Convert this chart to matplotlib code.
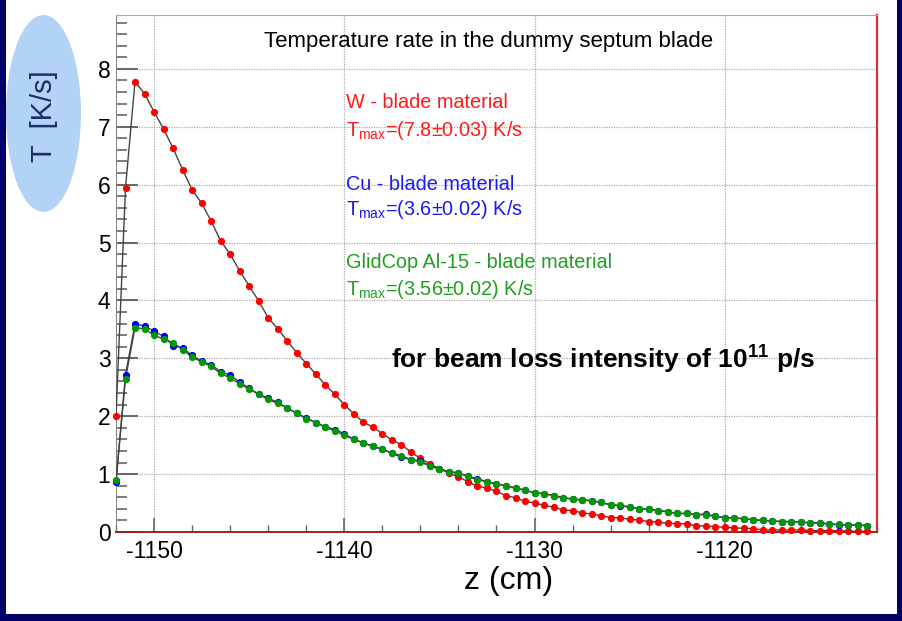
import numpy as np
import matplotlib.pyplot as plt
from matplotlib.patches import Ellipse, Rectangle
from matplotlib.ticker import MultipleLocator

plt.rcParams['font.family'] = ['Liberation Sans', 'DejaVu Sans']
plt.rcParams['axes.unicode_minus'] = False

# z bins (cm), one point every 0.5 cm
z = np.arange(-1152.0, -1112.25, 0.5)

# temperature rate (K/s)
t_w = [2.00, 5.95, 7.78, 7.57, 7.26, 6.96, 6.63, 6.26, 5.91, 5.68,
       5.37, 5.03, 4.80, 4.51, 4.25, 3.99, 3.70, 3.51, 3.30, 3.10,
       2.91, 2.73, 2.54, 2.38, 2.20, 2.04, 1.90, 1.81, 1.70, 1.59,
       1.51, 1.38, 1.27, 1.18, 1.09, 1.02, 0.95, 0.87, 0.79, 0.76,
       0.70, 0.63, 0.59, 0.53, 0.50, 0.46, 0.43, 0.38, 0.37, 0.33,
       0.31, 0.28, 0.25, 0.245, 0.22, 0.205, 0.18, 0.17, 0.15, 0.145,
       0.14, 0.11, 0.10, 0.093, 0.081, 0.07, 0.064, 0.059, 0.036, 0.036,
       0.036, 0.036, 0.036, 0.024, 0.024, 0.024, 0.024, 0.012, 0.012, 0.012]

t_cu = [0.87, 2.72, 3.59, 3.56, 3.47, 3.38, 3.22, 3.18, 3.05, 2.95,
        2.89, 2.77, 2.71, 2.59, 2.48, 2.38, 2.31, 2.24, 2.14, 2.05,
        1.97, 1.89, 1.82, 1.77, 1.70, 1.60, 1.54, 1.48, 1.43, 1.36,
        1.29, 1.25, 1.23, 1.14, 1.09, 1.04, 1.02, 0.96, 0.92, 0.87,
        0.83, 0.80, 0.76, 0.72, 0.68, 0.66, 0.63, 0.59, 0.57, 0.55,
        0.54, 0.51, 0.47, 0.45, 0.43, 0.40, 0.39, 0.37, 0.35, 0.32,
        0.32, 0.30, 0.31, 0.27, 0.25, 0.24, 0.23, 0.21, 0.20, 0.19,
        0.18, 0.18, 0.17, 0.16, 0.16, 0.14, 0.12, 0.12, 0.12, 0.11]

t_glid = [0.89, 2.65, 3.53, 3.51, 3.40, 3.33, 3.27, 3.15, 3.02, 2.94,
          2.86, 2.74, 2.66, 2.56, 2.47, 2.38, 2.29, 2.22, 2.14, 2.05,
          1.96, 1.89, 1.81, 1.75, 1.67, 1.60, 1.54, 1.48, 1.43, 1.36,
          1.32, 1.25, 1.21, 1.14, 1.09, 1.04, 1.02, 0.96, 0.90, 0.87,
          0.83, 0.80, 0.76, 0.72, 0.68, 0.66, 0.63, 0.59, 0.57, 0.555,
          0.54, 0.51, 0.47, 0.46, 0.435, 0.405, 0.39, 0.37, 0.35, 0.32,
          0.32, 0.30, 0.30, 0.27, 0.25, 0.24, 0.23, 0.21, 0.20, 0.19,
          0.18, 0.18, 0.17, 0.16, 0.15, 0.14, 0.13, 0.12, 0.12, 0.11]

W, H = 903, 621


def fx(px):
    return px / W


def fy(py):
    return 1 - py / H


navy = '#00006b'
fig = plt.figure(figsize=(W / 100, H / 100), dpi=100, facecolor=navy)
fig.add_artist(Rectangle((fx(6), fy(614)), fx(897 - 6), 614 / H,
                         transform=fig.transFigure, facecolor='white',
                         edgecolor='none', zorder=0))

# light blue bubble with the y label
fig.add_artist(Ellipse((fx(43.5), fy(113.5)), fx(75), 197 / H,
                       transform=fig.transFigure, facecolor='#b3d3f6',
                       edgecolor='none', zorder=1))
fig.text(fx(43.5), fy(116), 'T  [K/s]', rotation=90, ha='center', va='center',
         fontsize=21, color='#1c2f66')

ax = fig.add_axes([fx(116), fy(532), fx(877 - 116), (532 - 15) / H])
ax.set_xlim(-1152, -1112)
ax.set_ylim(0, 8.93)

series = [(t_w, '#ff0000'), (t_cu, '#0000ff'), (t_glid, '#009a00')]
for vals, col in series:
    ax.plot(z, vals, color='#444444', lw=1.0, zorder=3)
    ax.plot(z, vals, 'o', ms=4.2, mfc=col, mec=col, clip_on=False, zorder=4)

ax.xaxis.set_major_locator(MultipleLocator(10))
ax.xaxis.set_minor_locator(MultipleLocator(2))
ax.yaxis.set_major_locator(MultipleLocator(1))
ax.yaxis.set_minor_locator(MultipleLocator(0.2))
ax.tick_params(axis='y', which='major', direction='in', length=16, width=1.4,
               color='#666666', labelsize=16.5, pad=4)
ax.tick_params(axis='y', which='minor', direction='in', length=8, width=1.2,
               color='#666666')
ax.tick_params(axis='x', which='major', direction='in', length=10, width=1.2,
               color='#666666', labelsize=16.5, pad=6)
ax.tick_params(axis='x', which='minor', direction='in', length=5, width=1.0,
               color='#666666')
ax.grid(True, which='major', linestyle=(0, (1, 1)), color='#aaaaaa', lw=0.9)

ax.spines['left'].set_color('#888888')
ax.spines['top'].set_color('#aaaaaa')
ax.spines['right'].set_color('#cc3333')
ax.spines['right'].set_linewidth(1.6)
ax.spines['bottom'].set_color('#a02020')
ax.spines['bottom'].set_linewidth(1.4)

fig.text(fx(509), fy(581), 'z (cm)', ha='center', va='center', fontsize=23)
fig.text(fx(489), fy(42), 'Temperature rate in the dummy septum blade',
         ha='center', va='center', fontsize=16)

# material annotations
notes = [
    ('W - blade material', 108, '#ff1a1a'),
    (r'T$_\mathregular{max}$=(7.8±0.03) K/s', 136, '#ff1a1a'),
    ('Cu - blade material', 190, '#1a1aee'),
    (r'T$_\mathregular{max}$=(3.6±0.02) K/s', 215, '#1a1aee'),
    ('GlidCop Al-15 - blade material', 268, '#1f9f1f'),
    (r'T$_\mathregular{max}$=(3.56±0.02) K/s', 295, '#1f9f1f'),
]
for txt, yb, col in notes:
    fig.text(fx(346), fy(yb), txt, ha='left', va='baseline', fontsize=14.3,
             color=col)

fig.text(fx(391), fy(368), r'for beam loss intensity of 10$^\mathregular{11}$ p/s',
         ha='left', va='baseline', fontsize=19, fontweight='bold')

fig.savefig('out.png', dpi=100, facecolor=navy)
